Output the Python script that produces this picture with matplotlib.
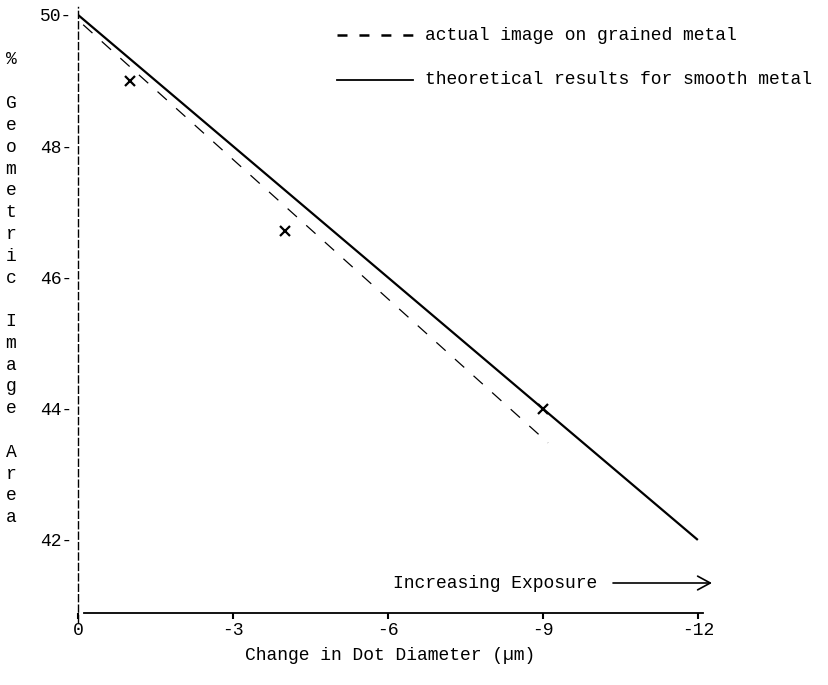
import matplotlib
matplotlib.use('Agg')
import matplotlib.pyplot as plt
from matplotlib.lines import Line2D

# data
smooth_x = [0, -12]
smooth_y = [50, 42]
grained_x = [-0.1, -9.1]
grained_y = [49.85, 43.48]
measured_x = [-1, -4, -9]
measured_y = [49.0, 46.7, 44.0]

xticks = [0, -3, -6, -9, -12]
yticks = [42, 44, 46, 48, 50]
ylabel = '% Geometric Image Area'
legend_labels = ['actual image on grained metal', 'theoretical results for smooth metal']

W, H = 829, 685
plt.rcParams['font.family'] = ['Liberation Mono', 'DejaVu Sans Mono']
plt.rcParams['font.size'] = 13
plt.rcParams['lines.scale_dashes'] = False

fig = plt.figure(figsize=(W / 100, H / 100), dpi=100)

def fx(px):
    return px / W

def fy(py):
    return 1 - py / H

ax = fig.add_axes([fx(78), fy(622), fx(703) - fx(78), fy(7) - fy(622)])

# lines and measured points
ax.plot(smooth_x, smooth_y, color='black', lw=1.6, solid_capstyle='butt')
ax.plot(grained_x, grained_y, color='black', lw=0.9, linestyle=(0, (9, 9)))
ax.plot(measured_x, measured_y, linestyle='none', marker='x', color='black',
        markersize=7, markeredgewidth=1.6)

ax.set_xlim(0, -12.1)
ax.set_ylim(40.75, 50.12)

# spines
for s in ['top', 'right']:
    ax.spines[s].set_visible(False)
ax.spines['left'].set_linestyle((0, (5, 2.5)))
ax.spines['left'].set_linewidth(1.0)
ax.spines['bottom'].set_position(('data', 40.88))
ax.spines['bottom'].set_bounds(-0.12, -12.1)
ax.spines['bottom'].set_linewidth(1.3)

ax.set_xticks(xticks)
ax.set_xticklabels([str(t) for t in xticks])
ax.tick_params(axis='x', direction='out', length=4, width=1.5, pad=2)
ax.set_yticks(yticks)
ax.set_yticklabels([f'{t}-' for t in yticks])
ax.tick_params(axis='y', length=0, pad=4)

ax.set_xlabel('Change in Dot Diameter (\u00b5m)', labelpad=6)

# stacked vertical y label, one character per line
for i, ch in enumerate(ylabel):
    if ch == ' ':
        continue
    fig.text(fx(11), fy(60 + i * 21.8), ch, ha='center', va='center')

# hand-placed legend
fig.add_artist(Line2D([fx(337), fx(413)], [fy(35), fy(35)], color='black', lw=1.8,
                      linestyle=(0, (7.2, 8.6)), solid_capstyle='butt',
                      dash_capstyle='butt', transform=fig.transFigure))
fig.add_artist(Line2D([fx(337), fx(413)], [fy(80), fy(80)], color='black', lw=1.3,
                      transform=fig.transFigure))
fig.text(fx(425), fy(35), legend_labels[0], ha='left', va='center')
fig.text(fx(425), fy(80), legend_labels[1], ha='left', va='center')

# exposure annotation
fig.text(fx(393), fy(583), 'Increasing Exposure', ha='left', va='center')
ax.annotate('', xy=(fx(712), fy(583)), xytext=(fx(613), fy(583)),
            xycoords='figure fraction', textcoords='figure fraction',
            arrowprops=dict(arrowstyle='->,head_length=0.7,head_width=0.38',
                            lw=1.2, color='black', shrinkA=0, shrinkB=0))

fig.savefig('out.png', dpi=100)
